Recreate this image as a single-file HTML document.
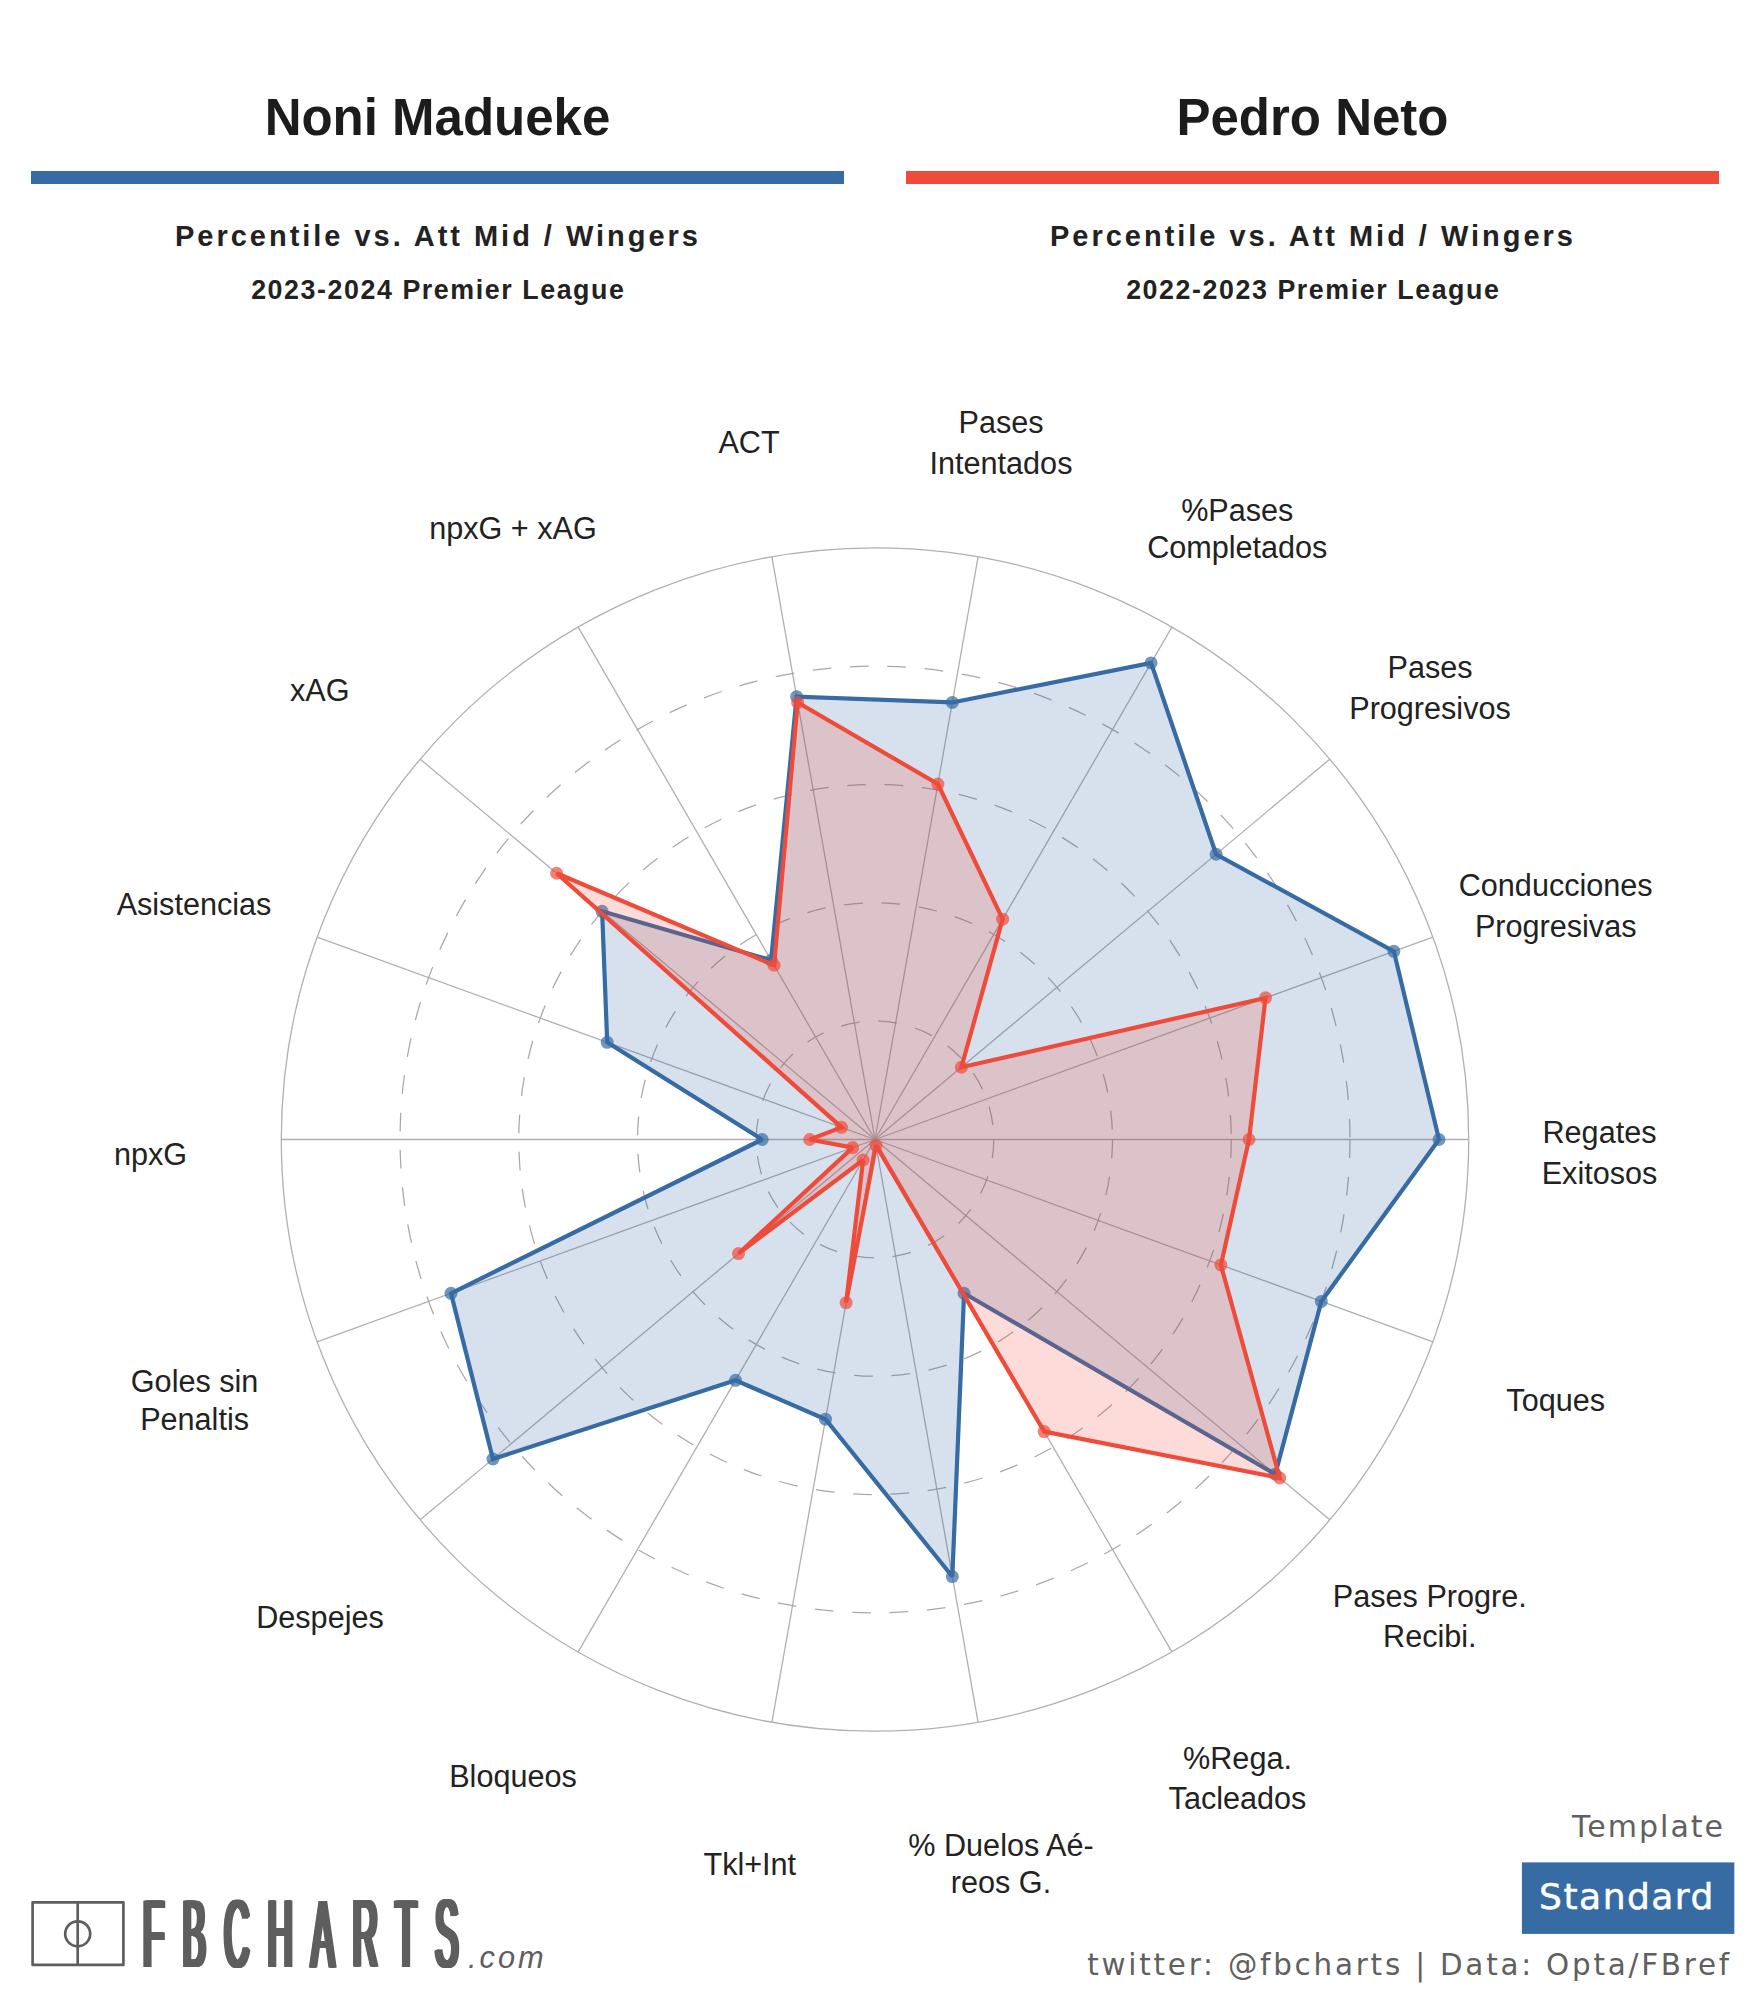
<!DOCTYPE html>
<html lang="es"><head><meta charset="utf-8"><title>Noni Madueke vs Pedro Neto</title>
<style>html,body{margin:0;padding:0;background:#fff}
.page{position:relative;width:1750px;height:2000px;overflow:hidden;background:#fff}
.page svg{display:block;position:absolute;left:0;top:0}
.logo{position:absolute;top:1885.97px;font-family:'Liberation Sans',Arial,Helvetica,sans-serif;font-size:96.2px;line-height:1;color:#5e5e5e;transform-origin:0 0;white-space:nowrap}</style></head>
<body>
<div class="page">
<svg width="1750" height="2000" viewBox="0 0 1750 2000">
<rect width="1750" height="2000" fill="#fff"/>
<text x="437.5" y="135" text-anchor="middle" style="font-family:'Liberation Sans',Arial,Helvetica,sans-serif;font-weight:bold" font-size="51" fill="#1c1c1c">Noni Madueke</text>
<rect x="31.0" y="171" width="813" height="13" fill="#366ba3"/>
<text x="438.0" y="245.8" text-anchor="middle" style="font-family:'Liberation Sans',Arial,Helvetica,sans-serif;font-weight:bold" font-size="29" letter-spacing="2.98" fill="#222">Percentile vs. Att Mid / Wingers</text>
<text x="438.3" y="299.2" text-anchor="middle" style="font-family:'Liberation Sans',Arial,Helvetica,sans-serif;font-weight:bold" font-size="26.8" letter-spacing="1.57" fill="#222">2023-2024 Premier League</text>
<text x="1312.5" y="135" text-anchor="middle" style="font-family:'Liberation Sans',Arial,Helvetica,sans-serif;font-weight:bold" font-size="51" fill="#1c1c1c">Pedro Neto</text>
<rect x="906.0" y="171" width="813" height="13" fill="#ef4b3b"/>
<text x="1313.0" y="245.8" text-anchor="middle" style="font-family:'Liberation Sans',Arial,Helvetica,sans-serif;font-weight:bold" font-size="29" letter-spacing="2.98" fill="#222">Percentile vs. Att Mid / Wingers</text>
<text x="1313.3" y="299.2" text-anchor="middle" style="font-family:'Liberation Sans',Arial,Helvetica,sans-serif;font-weight:bold" font-size="26.8" letter-spacing="1.57" fill="#222">2022-2023 Premier League</text>
<g fill="none" stroke="#b0b0b0" stroke-width="1.3">
<ellipse cx="875.0" cy="1139.5" rx="593.7" ry="591.7"/>
<line x1="875.0" y1="1139.5" x2="1468.70" y2="1139.50"/>
<line x1="875.0" y1="1139.5" x2="1432.90" y2="937.13"/>
<line x1="875.0" y1="1139.5" x2="1329.80" y2="759.16"/>
<line x1="875.0" y1="1139.5" x2="1171.85" y2="627.07"/>
<line x1="875.0" y1="1139.5" x2="978.09" y2="556.79"/>
<line x1="875.0" y1="1139.5" x2="771.91" y2="556.79"/>
<line x1="875.0" y1="1139.5" x2="578.15" y2="627.07"/>
<line x1="875.0" y1="1139.5" x2="420.20" y2="759.16"/>
<line x1="875.0" y1="1139.5" x2="317.10" y2="937.13"/>
<line x1="875.0" y1="1139.5" x2="281.30" y2="1139.50"/>
<line x1="875.0" y1="1139.5" x2="317.10" y2="1341.87"/>
<line x1="875.0" y1="1139.5" x2="420.20" y2="1519.84"/>
<line x1="875.0" y1="1139.5" x2="578.15" y2="1651.93"/>
<line x1="875.0" y1="1139.5" x2="771.91" y2="1722.21"/>
<line x1="875.0" y1="1139.5" x2="978.09" y2="1722.21"/>
<line x1="875.0" y1="1139.5" x2="1171.85" y2="1651.93"/>
<line x1="875.0" y1="1139.5" x2="1329.80" y2="1519.84"/>
<line x1="875.0" y1="1139.5" x2="1432.90" y2="1341.87"/>
</g>
<g fill="none" stroke="#a8a8a8" stroke-width="1.25" stroke-dasharray="18.72 18.72">
<ellipse cx="875.0" cy="1139.5" rx="118.74" ry="118.34"/>
<ellipse cx="875.0" cy="1139.5" rx="237.48" ry="236.68"/>
<ellipse cx="875.0" cy="1139.5" rx="356.22" ry="355.02"/>
<ellipse cx="875.0" cy="1139.5" rx="474.96" ry="473.36"/>
</g>
<polygon points="1439.02,1139.50 1393.84,951.29 1216.10,854.25 1151.07,662.94 952.32,702.47 796.65,696.64 771.10,960.15 602.12,911.30 607.21,1042.36 762.20,1139.50 451.00,1293.30 492.97,1458.98 735.48,1380.34 825.51,1419.20 952.32,1576.53 964.06,1293.23 1275.22,1474.20 1321.32,1301.40" fill="#366ba3" fill-opacity="0.2" stroke="#366ba3" stroke-width="4.2" stroke-linejoin="miter" stroke-miterlimit="2"/>
<g fill="#366ba3" fill-opacity="0.7">
<circle cx="1439.02" cy="1139.50" r="6.5"/>
<circle cx="1393.84" cy="951.29" r="6.5"/>
<circle cx="1216.10" cy="854.25" r="6.5"/>
<circle cx="1151.07" cy="662.94" r="6.5"/>
<circle cx="952.32" cy="702.47" r="6.5"/>
<circle cx="796.65" cy="696.64" r="6.5"/>
<circle cx="771.10" cy="960.15" r="6.5"/>
<circle cx="602.12" cy="911.30" r="6.5"/>
<circle cx="607.21" cy="1042.36" r="6.5"/>
<circle cx="762.20" cy="1139.50" r="6.5"/>
<circle cx="451.00" cy="1293.30" r="6.5"/>
<circle cx="492.97" cy="1458.98" r="6.5"/>
<circle cx="735.48" cy="1380.34" r="6.5"/>
<circle cx="825.51" cy="1419.20" r="6.5"/>
<circle cx="952.32" cy="1576.53" r="6.5"/>
<circle cx="964.06" cy="1293.23" r="6.5"/>
<circle cx="1275.22" cy="1474.20" r="6.5"/>
<circle cx="1321.32" cy="1301.40" r="6.5"/>
</g>
<polygon points="1249.03,1139.50 1265.53,997.84 961.41,1067.24 1002.65,919.16 937.89,784.05 797.68,702.47 774.07,965.27 556.64,873.26 841.53,1127.36 809.69,1139.50 852.68,1147.59 738.56,1253.60 863.13,1160.00 846.13,1302.66 876.03,1145.33 1044.20,1431.58 1279.77,1478.00 1220.90,1264.97" fill="#ef4b3b" fill-opacity="0.2" stroke="#ef4b3b" stroke-width="4.2" stroke-linejoin="miter" stroke-miterlimit="2"/>
<g fill="#ef4b3b" fill-opacity="0.7">
<circle cx="1249.03" cy="1139.50" r="6.5"/>
<circle cx="1265.53" cy="997.84" r="6.5"/>
<circle cx="961.41" cy="1067.24" r="6.5"/>
<circle cx="1002.65" cy="919.16" r="6.5"/>
<circle cx="937.89" cy="784.05" r="6.5"/>
<circle cx="797.68" cy="702.47" r="6.5"/>
<circle cx="774.07" cy="965.27" r="6.5"/>
<circle cx="556.64" cy="873.26" r="6.5"/>
<circle cx="841.53" cy="1127.36" r="6.5"/>
<circle cx="809.69" cy="1139.50" r="6.5"/>
<circle cx="852.68" cy="1147.59" r="6.5"/>
<circle cx="738.56" cy="1253.60" r="6.5"/>
<circle cx="863.13" cy="1160.00" r="6.5"/>
<circle cx="846.13" cy="1302.66" r="6.5"/>
<circle cx="876.03" cy="1145.33" r="6.5"/>
<circle cx="1044.20" cy="1431.58" r="6.5"/>
<circle cx="1279.77" cy="1478.00" r="6.5"/>
<circle cx="1220.90" cy="1264.97" r="6.5"/>
</g>
<g style="font-family:'Liberation Sans',Arial,Helvetica,sans-serif" font-size="30.6" fill="#222" text-anchor="middle">
<text x="1599.5" y="1142.6">Regates</text>
<text x="1599.5" y="1183.6">Exitosos</text>
<text x="1555.7" y="895.9">Conducciones</text>
<text x="1555.7" y="936.7">Progresivas</text>
<text x="1430" y="678.2">Pases</text>
<text x="1430" y="719.3">Progresivos</text>
<text x="1237.3" y="520.5">%Pases</text>
<text x="1237.3" y="557.5">Completados</text>
<text x="1001" y="433.2">Pases</text>
<text x="1001" y="473.6">Intentados</text>
<text x="749" y="452.8">ACT</text>
<text x="513" y="538.8">npxG + xAG</text>
<text x="319.8" y="700.6">xAG</text>
<text x="194" y="915.4">Asistencias</text>
<text x="150.6" y="1164.7">npxG</text>
<text x="194.6" y="1392.1">Goles sin</text>
<text x="194.6" y="1429.8">Penaltis</text>
<text x="320" y="1628.4">Despejes</text>
<text x="513" y="1786.8">Bloqueos</text>
<text x="749.8" y="1874.6">Tkl+Int</text>
<text x="1001" y="1856">% Duelos Aé-</text>
<text x="1001" y="1892.8">reos G.</text>
<text x="1237.5" y="1768.8">%Rega.</text>
<text x="1237.5" y="1808.8">Tacleados</text>
<text x="1429.8" y="1607.2">Pases Progre.</text>
<text x="1429.8" y="1647.2">Recibi.</text>
<text x="1555.7" y="1410.6">Toques</text>
</g>
<g fill="none" stroke="#5e5e5e" stroke-width="2.7" stroke-linejoin="round"><rect x="32.6" y="1902.4" width="90.8" height="62.5"/><line x1="77.7" y1="1902.4" x2="77.7" y2="1964.9"/><circle cx="77.7" cy="1933.8" r="12.5"/></g>
<text x="468" y="1968.2" style="font-family:'Liberation Sans',Arial,Helvetica,sans-serif;font-style:italic" font-size="30.8" letter-spacing="3" fill="#5e5e5e">.com</text>
<text x="1725" y="1837.4" text-anchor="end" style="font-family:'DejaVu Sans','Liberation Sans',sans-serif" font-size="30" letter-spacing="2" fill="#606060">Template</text>
<rect x="1521.9" y="1862.4" width="212.4" height="71.5" fill="#366ba3"/>
<text x="1627" y="1909.3" text-anchor="middle" style="font-family:'DejaVu Sans','Liberation Sans',sans-serif" font-size="36" letter-spacing="1.5" fill="#fff" stroke="#fff" stroke-width="0.5">Standard</text>
<text x="1732" y="1975" text-anchor="end" style="font-family:'DejaVu Sans','Liberation Sans',sans-serif" font-size="29.4" letter-spacing="2.78" fill="#606060">twitter: @fbcharts | Data: Opta/FBref</text>
</svg>
<div class="logo" style="left:143.20px;transform:scaleX(0.3598);letter-spacing:51.38px;text-shadow:-6.95px 0 0 #5e5e5e,-5.21px 0 0 #5e5e5e,-3.47px 0 0 #5e5e5e,-1.74px 0 0 #5e5e5e,1.74px 0 0 #5e5e5e,3.47px 0 0 #5e5e5e,5.21px 0 0 #5e5e5e,6.95px 0 0 #5e5e5e">FBCHARTS</div>
</div>
</body></html>
